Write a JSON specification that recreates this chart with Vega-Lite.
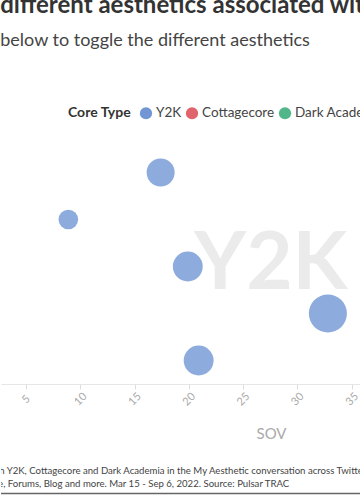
{
  "$schema": "https://vega.github.io/schema/vega-lite/v6.json",
  "padding": {"left": 0, "top": -6, "right": 0, "bottom": 0},
  "background": "white",
  "config": {"font": "Lato", "view": {"stroke": null}},
  "title": {
    "text": "different aesthetics associated with the My Aesthetic conversation",
    "subtitle": "below to toggle the different aesthetics",
    "anchor": "start",
    "fontSize": 24,
    "fontWeight": "bold",
    "color": "#333333",
    "subtitleFontSize": 18,
    "subtitleColor": "#444444",
    "subtitlePadding": 14,
    "offset": 56
  },
  "spacing": 23,
  "vconcat": [
    {
      "width": 360,
      "height": 235,
      "data": {
        "values": [
          {"kind": "point", "aesthetic": "Y2K", "topic": "Fashion", "sov": 17.4, "volume": 54},
          {"kind": "point", "aesthetic": "Y2K", "topic": "Music", "sov": 8.9, "volume": 26.5},
          {"kind": "point", "aesthetic": "Y2K", "topic": "Beauty", "sov": 19.9, "volume": 61.6},
          {"kind": "point", "aesthetic": "Y2K", "topic": "Nostalgia", "sov": 32.8, "volume": 100},
          {"kind": "point", "aesthetic": "Y2K", "topic": "Technology", "sov": 20.9, "volume": 61.6},
          {"kind": "label", "aesthetic": "Y2K", "topic": "Beauty", "sov": 27.55}
        ]
      },
      "encoding": {
        "x": {
          "field": "sov",
          "type": "quantitative",
          "title": "SOV",
          "scale": {"domain": [2.7, 35.85], "nice": false, "zero": false},
          "axis": {
            "values": [5, 10, 15, 20, 25, 30, 35],
            "labelAngle": -45,
            "labelAlign": "center",
            "labelBaseline": "middle",
            "labelPadding": 10,
            "labelColor": "#aaaaaa",
            "labelFontSize": 11,
            "tickColor": "#dddddd",
            "tickSize": 5,
            "domainColor": "#e6e6e6",
            "grid": false,
            "titleX": 270,
            "titleY": 49,
            "titleAlign": "center",
            "titleBaseline": "middle",
            "titleColor": "#aaaaaa",
            "titleFontSize": 15,
            "titleFontWeight": "normal"
          }
        },
        "y": {
          "field": "topic",
          "type": "nominal",
          "sort": ["Fashion", "Music", "Beauty", "Nostalgia", "Technology"],
          "axis": null
        }
      },
      "layer": [
        {
          "transform": [{"filter": "datum.kind == 'label'"}],
          "mark": {"type": "text", "fontSize": 80, "fontWeight": "bold", "color": "#ebebeb", "align": "center", "baseline": "alphabetic", "dy": 22},
          "encoding": {"text": {"field": "aesthetic"}}
        },
        {
          "transform": [{"filter": "datum.kind == 'point'"}],
          "mark": {"type": "circle", "opacity": 0.8},
          "encoding": {
            "size": {
              "field": "volume",
              "type": "quantitative",
              "scale": {"domain": [0, 100], "range": [0, 1450]},
              "legend": null
            },
            "color": {
              "field": "aesthetic",
              "type": "nominal",
              "scale": {"domain": ["Y2K", "Cottagecore", "Dark Academia"], "range": ["#7196d3", "#e0646b", "#52b788"]},
              "legend": {
                "title": "Core Type",
                "orient": "none",
                "legendX": 67,
                "legendY": -43,
                "direction": "horizontal",
                "titleOrient": "left",
                "symbolType": "circle",
                "symbolSize": 150,
                "symbolOpacity": 1,
                "labelFontSize": 13.5,
                "titleFontSize": 14,
                "labelColor": "#444444",
                "titleColor": "#333333",
                "columnPadding": 3,
                "labelOffset": 3,
                "titlePadding": 7
              }
            }
          }
        }
      ]
    },
    {
      "width": 360,
      "height": 39,
      "data": {
        "values": [
          {"line": 0, "text": "with Y2K, Cottagecore and Dark Academia in the My Aesthetic conversation across Twitter,"},
          {"line": 1, "text": "YouTube, Forums, Blog and more. Mar 15 - Sep 6, 2022. Source: Pulsar TRAC"}
        ]
      },
      "encoding": {
        "x": {"datum": 0, "type": "quantitative", "scale": {"domain": [0, 1]}, "axis": null},
        "y": {"field": "line", "type": "quantitative", "scale": {"domain": [-0.5, 2.5], "reverse": true}, "axis": null}
      },
      "layer": [
        {
          "transform": [{"filter": "datum.line == 0"}],
          "mark": {"type": "text", "align": "left", "baseline": "middle", "dx": -15, "fontSize": 9.6, "color": "#444444", "clip": true},
          "encoding": {"text": {"field": "text"}}
        },
        {
          "transform": [{"filter": "datum.line == 1"}],
          "mark": {"type": "text", "align": "left", "baseline": "middle", "dx": -33, "fontSize": 9.6, "color": "#444444", "clip": true},
          "encoding": {"text": {"field": "text"}}
        },
        {
          "transform": [{"filter": "datum.line == 0"}],
          "mark": {"type": "rule", "color": "#666666", "strokeWidth": 1.5},
          "encoding": {
            "x": {"datum": 0, "type": "quantitative"},
            "x2": {"datum": 1},
            "y": {"datum": 1.77, "type": "quantitative"}
          }
        }
      ]
    }
  ]
}
